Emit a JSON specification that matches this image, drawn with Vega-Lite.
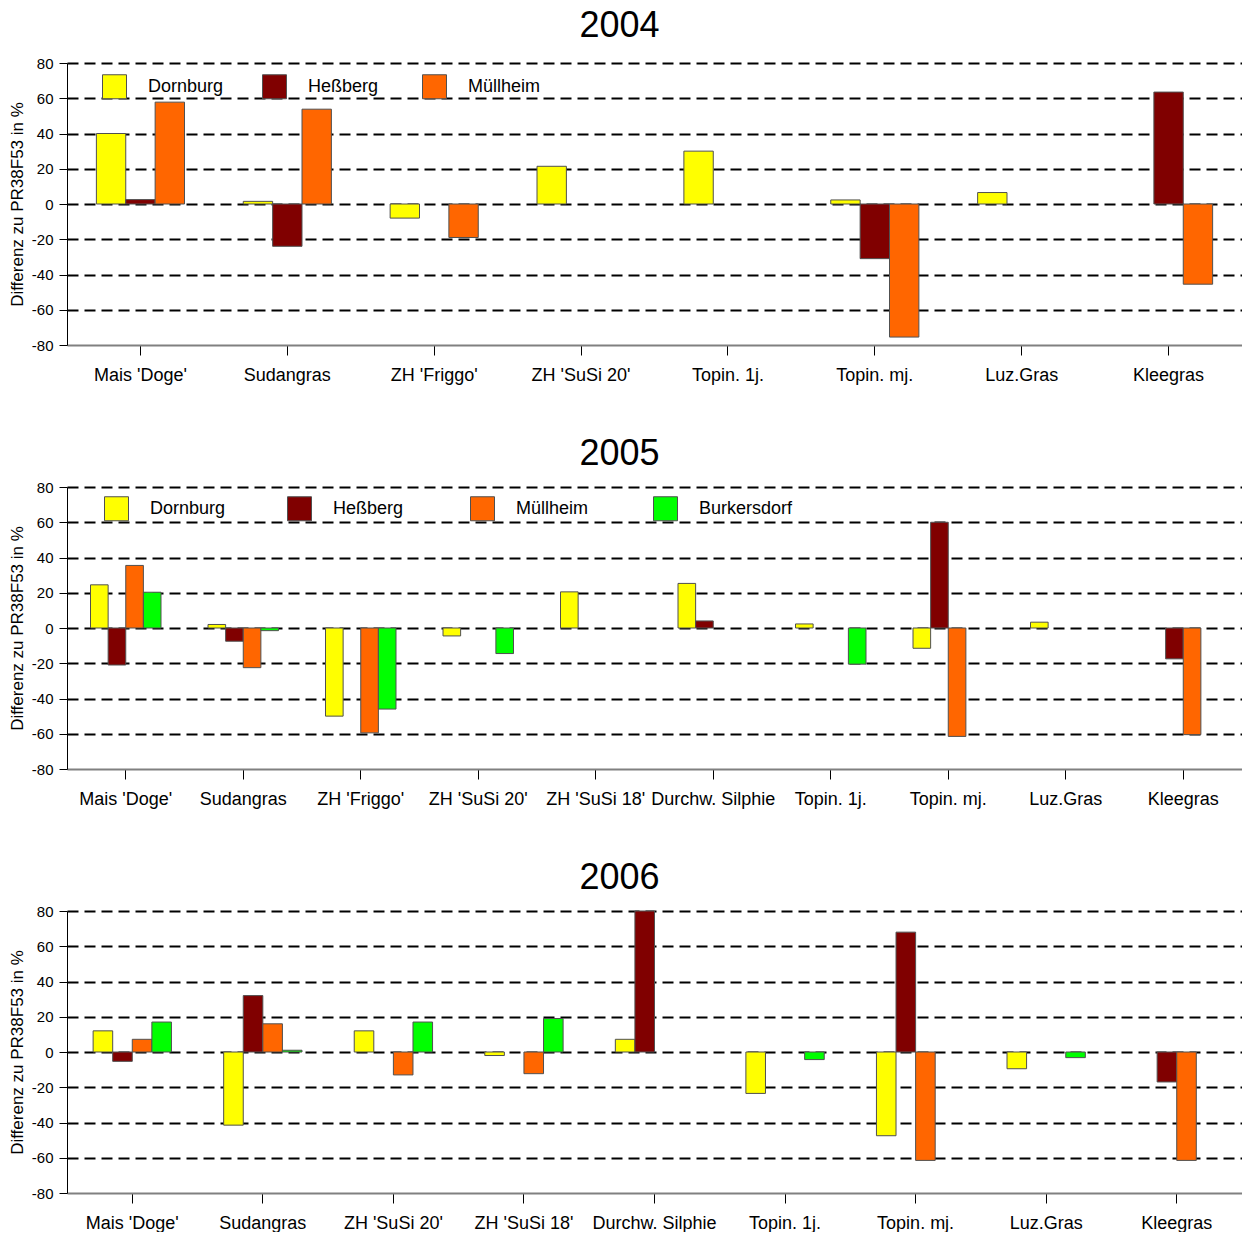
{
  "$schema": "https://vega.github.io/schema/vega-lite/v6.json",
  "padding": {"left": 8, "top": 8, "right": 0, "bottom": 0},
  "background": "white",
  "spacing": 52,
  "columns": 1,
  "align": "none",
  "resolve": {"scale": {"color": "independent", "xOffset": "independent", "x": "independent"}, "legend": {"color": "independent"}},
  "config": {
    "font": "Liberation Sans",
    "view": {"stroke": null},
    "title": {"fontSize": 36, "fontWeight": "normal", "color": "black", "anchor": "middle", "dx": -35, "offset": 11, "baseline": "bottom", "font": "Liberation Sans"},
    "axis": {"labelFont": "Liberation Sans", "titleFont": "Liberation Sans", "labelColor": "black", "titleColor": "black"},
    "axisX": {"labelFontSize": 18, "labelAngle": 0, "tickColor": "black", "tickSize": 10, "tickWidth": 1, "domainColor": "#808080", "domainWidth": 2, "labelPadding": 11, "title": null, "grid": false},
    "axisY": {"labelFontSize": 15, "tickColor": "black", "tickSize": 8, "tickWidth": 1, "domainColor": "black", "domainWidth": 1, "labelPadding": 6, "titleFontSize": 17, "titleFontWeight": "normal", "titlePadding": 5, "grid": true, "gridColor": "black", "gridDash": [11, 6], "gridWidth": 2},
    "legend": {"orient": "none", "direction": "horizontal", "gridAlign": "all", "symbolType": "square", "symbolSize": 576, "symbolStrokeColor": "#505050", "symbolStrokeWidth": 1, "labelFontSize": 18, "labelOffset": 21, "labelFont": "Liberation Sans", "labelColor": "black", "title": null, "padding": 0, "labelLimit": 300}
  },
  "datasets": {
    "bars": [
      {"year": 2004, "crop": "Mais 'Doge'", "site": "Dornburg", "value": 40},
      {"year": 2004, "crop": "Mais 'Doge'", "site": "Heßberg", "value": 2.5},
      {"year": 2004, "crop": "Mais 'Doge'", "site": "Müllheim", "value": 57.8},
      {"year": 2004, "crop": "Sudangras", "site": "Dornburg", "value": 1.5},
      {"year": 2004, "crop": "Sudangras", "site": "Heßberg", "value": -24},
      {"year": 2004, "crop": "Sudangras", "site": "Müllheim", "value": 53.8},
      {"year": 2004, "crop": "ZH 'Friggo'", "site": "Dornburg", "value": -8},
      {"year": 2004, "crop": "ZH 'Friggo'", "site": "Müllheim", "value": -19},
      {"year": 2004, "crop": "ZH 'SuSi 20'", "site": "Dornburg", "value": 21.4},
      {"year": 2004, "crop": "Topin. 1j.", "site": "Dornburg", "value": 30},
      {"year": 2004, "crop": "Topin. mj.", "site": "Dornburg", "value": 2.3},
      {"year": 2004, "crop": "Topin. mj.", "site": "Heßberg", "value": -31},
      {"year": 2004, "crop": "Topin. mj.", "site": "Müllheim", "value": -75.5},
      {"year": 2004, "crop": "Luz.Gras", "site": "Dornburg", "value": 6.5},
      {"year": 2004, "crop": "Kleegras", "site": "Heßberg", "value": 63.5},
      {"year": 2004, "crop": "Kleegras", "site": "Müllheim", "value": -45.5},

      {"year": 2005, "crop": "Mais 'Doge'", "site": "Dornburg", "value": 24.5},
      {"year": 2005, "crop": "Mais 'Doge'", "site": "Heßberg", "value": -21},
      {"year": 2005, "crop": "Mais 'Doge'", "site": "Müllheim", "value": 35.5},
      {"year": 2005, "crop": "Mais 'Doge'", "site": "Burkersdorf", "value": 20.3},
      {"year": 2005, "crop": "Sudangras", "site": "Dornburg", "value": 2},
      {"year": 2005, "crop": "Sudangras", "site": "Heßberg", "value": -7.5},
      {"year": 2005, "crop": "Sudangras", "site": "Müllheim", "value": -22.5},
      {"year": 2005, "crop": "Sudangras", "site": "Burkersdorf", "value": -1.5},
      {"year": 2005, "crop": "ZH 'Friggo'", "site": "Dornburg", "value": -50},
      {"year": 2005, "crop": "ZH 'Friggo'", "site": "Müllheim", "value": -59.5},
      {"year": 2005, "crop": "ZH 'Friggo'", "site": "Burkersdorf", "value": -46},
      {"year": 2005, "crop": "ZH 'SuSi 20'", "site": "Dornburg", "value": -4.5},
      {"year": 2005, "crop": "ZH 'SuSi 20'", "site": "Burkersdorf", "value": -14.5},
      {"year": 2005, "crop": "ZH 'SuSi 18'", "site": "Dornburg", "value": 20.5},
      {"year": 2005, "crop": "Durchw. Silphie", "site": "Dornburg", "value": 25.3},
      {"year": 2005, "crop": "Durchw. Silphie", "site": "Heßberg", "value": 4},
      {"year": 2005, "crop": "Topin. 1j.", "site": "Dornburg", "value": 2.3},
      {"year": 2005, "crop": "Topin. 1j.", "site": "Burkersdorf", "value": -20.5},
      {"year": 2005, "crop": "Topin. mj.", "site": "Dornburg", "value": -11.5},
      {"year": 2005, "crop": "Topin. mj.", "site": "Heßberg", "value": 60},
      {"year": 2005, "crop": "Topin. mj.", "site": "Müllheim", "value": -61.5},
      {"year": 2005, "crop": "Luz.Gras", "site": "Dornburg", "value": 3.3},
      {"year": 2005, "crop": "Kleegras", "site": "Heßberg", "value": -17.5},
      {"year": 2005, "crop": "Kleegras", "site": "Müllheim", "value": -60.5},

      {"year": 2006, "crop": "Mais 'Doge'", "site": "Dornburg", "value": 12},
      {"year": 2006, "crop": "Mais 'Doge'", "site": "Heßberg", "value": -5.3},
      {"year": 2006, "crop": "Mais 'Doge'", "site": "Müllheim", "value": 7.2},
      {"year": 2006, "crop": "Mais 'Doge'", "site": "Burkersdorf", "value": 17},
      {"year": 2006, "crop": "Sudangras", "site": "Dornburg", "value": -41.5},
      {"year": 2006, "crop": "Sudangras", "site": "Heßberg", "value": 32},
      {"year": 2006, "crop": "Sudangras", "site": "Müllheim", "value": 16},
      {"year": 2006, "crop": "Sudangras", "site": "Burkersdorf", "value": 1},
      {"year": 2006, "crop": "ZH 'SuSi 20'", "site": "Dornburg", "value": 12},
      {"year": 2006, "crop": "ZH 'SuSi 20'", "site": "Müllheim", "value": -13},
      {"year": 2006, "crop": "ZH 'SuSi 20'", "site": "Burkersdorf", "value": 17},
      {"year": 2006, "crop": "ZH 'SuSi 18'", "site": "Dornburg", "value": -2},
      {"year": 2006, "crop": "ZH 'SuSi 18'", "site": "Müllheim", "value": -12.3},
      {"year": 2006, "crop": "ZH 'SuSi 18'", "site": "Burkersdorf", "value": 19},
      {"year": 2006, "crop": "Durchw. Silphie", "site": "Dornburg", "value": 7.2},
      {"year": 2006, "crop": "Durchw. Silphie", "site": "Heßberg", "value": 80},
      {"year": 2006, "crop": "Topin. 1j.", "site": "Dornburg", "value": -23.5},
      {"year": 2006, "crop": "Topin. 1j.", "site": "Burkersdorf", "value": -4.3},
      {"year": 2006, "crop": "Topin. mj.", "site": "Dornburg", "value": -47.5},
      {"year": 2006, "crop": "Topin. mj.", "site": "Heßberg", "value": 68},
      {"year": 2006, "crop": "Topin. mj.", "site": "Müllheim", "value": -61.5},
      {"year": 2006, "crop": "Luz.Gras", "site": "Dornburg", "value": -9.5},
      {"year": 2006, "crop": "Luz.Gras", "site": "Burkersdorf", "value": -3.2},
      {"year": 2006, "crop": "Kleegras", "site": "Heßberg", "value": -17},
      {"year": 2006, "crop": "Kleegras", "site": "Müllheim", "value": -61.5}
    ]
  },
  "concat": [
    {
      "title": {"text": "2004"},
      "width": 1175,
      "height": 282,
      "data": {"name": "bars"},
      "transform": [{"filter": "datum.year == 2004"}],
      "mark": {"type": "bar", "stroke": "#505050", "strokeWidth": 1},
      "encoding": {
        "x": {"field": "crop", "type": "nominal", "sort": null,
              "scale": {"domain": ["Mais 'Doge'", "Sudangras", "ZH 'Friggo'", "ZH 'SuSi 20'", "Topin. 1j.", "Topin. mj.", "Luz.Gras", "Kleegras"], "paddingInner": 0.4, "paddingOuter": 0.2}},
        "xOffset": {"field": "site", "type": "nominal", "scale": {"domain": ["Dornburg", "Heßberg", "Müllheim"], "paddingInner": 0, "paddingOuter": 0}},
        "y": {"field": "value", "type": "quantitative", "title": "Differenz zu PR38F53 in %",
              "scale": {"domain": [-80, 80], "nice": false},
              "axis": {"values": [-80, -60, -40, -20, 0, 20, 40, 60, 80], "labelExpr": "datum.value + ''", "gridOpacity": {"condition": {"test": "datum.value == -80", "value": 0}, "value": 1}}},
        "color": {"field": "site", "type": "nominal",
                  "scale": {"domain": ["Dornburg", "Heßberg", "Müllheim"], "range": ["#FFFF00", "#800000", "#FF6600"]},
                  "legend": {"legendX": 35, "legendY": 11, "columns": 3, "columnPadding": 36}}
      }
    },
    {
      "title": {"text": "2005", "offset": 7},
      "width": 1175,
      "height": 282,
      "data": {"name": "bars"},
      "transform": [{"filter": "datum.year == 2005"}],
      "mark": {"type": "bar", "stroke": "#505050", "strokeWidth": 1},
      "encoding": {
        "x": {"field": "crop", "type": "nominal", "sort": null,
              "scale": {"domain": ["Mais 'Doge'", "Sudangras", "ZH 'Friggo'", "ZH 'SuSi 20'", "ZH 'SuSi 18'", "Durchw. Silphie", "Topin. 1j.", "Topin. mj.", "Luz.Gras", "Kleegras"], "paddingInner": 0.4, "paddingOuter": 0.2}},
        "xOffset": {"field": "site", "type": "nominal", "scale": {"domain": ["Dornburg", "Heßberg", "Müllheim", "Burkersdorf"], "paddingInner": 0, "paddingOuter": 0}},
        "y": {"field": "value", "type": "quantitative", "title": "Differenz zu PR38F53 in %",
              "scale": {"domain": [-80, 80], "nice": false},
              "axis": {"values": [-80, -60, -40, -20, 0, 20, 40, 60, 80], "labelExpr": "datum.value + ''", "gridOpacity": {"condition": {"test": "datum.value == -80", "value": 0}, "value": 1}}},
        "color": {"field": "site", "type": "nominal",
                  "scale": {"domain": ["Dornburg", "Heßberg", "Müllheim", "Burkersdorf"], "range": ["#FFFF00", "#800000", "#FF6600", "#00FF00"]},
                  "legend": {"legendX": 37, "legendY": 9, "columns": 4, "columnPadding": 41}}
      }
    },
    {
      "title": {"text": "2006", "offset": 7},
      "width": 1175,
      "height": 282,
      "data": {"name": "bars"},
      "transform": [{"filter": "datum.year == 2006"}],
      "mark": {"type": "bar", "stroke": "#505050", "strokeWidth": 1},
      "encoding": {
        "x": {"field": "crop", "type": "nominal", "sort": null,
              "scale": {"domain": ["Mais 'Doge'", "Sudangras", "ZH 'SuSi 20'", "ZH 'SuSi 18'", "Durchw. Silphie", "Topin. 1j.", "Topin. mj.", "Luz.Gras", "Kleegras"], "paddingInner": 0.4, "paddingOuter": 0.2}},
        "xOffset": {"field": "site", "type": "nominal", "scale": {"domain": ["Dornburg", "Heßberg", "Müllheim", "Burkersdorf"], "paddingInner": 0, "paddingOuter": 0}},
        "y": {"field": "value", "type": "quantitative", "title": "Differenz zu PR38F53 in %",
              "scale": {"domain": [-80, 80], "nice": false},
              "axis": {"values": [-80, -60, -40, -20, 0, 20, 40, 60, 80], "labelExpr": "datum.value + ''", "gridOpacity": {"condition": {"test": "datum.value == -80", "value": 0}, "value": 1}}},
        "color": {"field": "site", "type": "nominal",
                  "scale": {"domain": ["Dornburg", "Heßberg", "Müllheim", "Burkersdorf"], "range": ["#FFFF00", "#800000", "#FF6600", "#00FF00"]},
                  "legend": null}
      }
    }
  ]
}
